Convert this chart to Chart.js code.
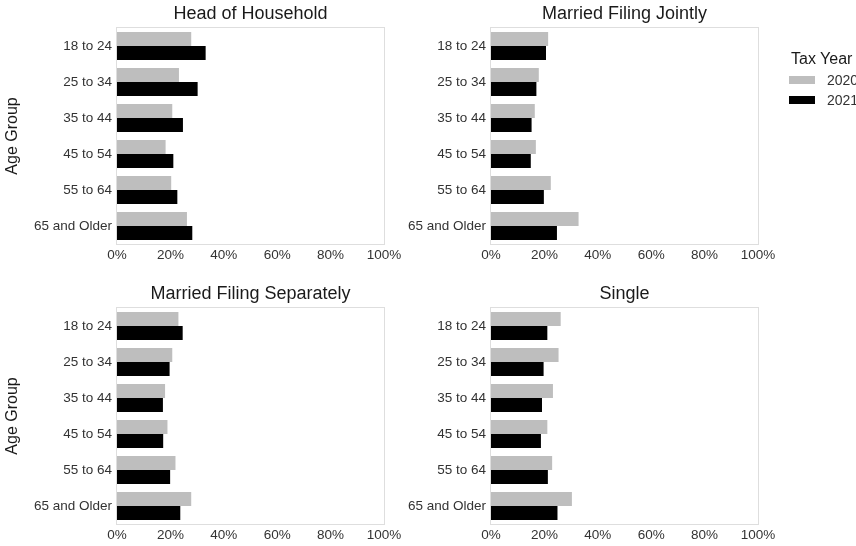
<!DOCTYPE html>
<html>
<head>
<meta charset="utf-8">
<script src="https://cdn.jsdelivr.net/npm/chart.js@4.4.1/dist/chart.umd.min.js"></script>
<style>
  html, body { margin: 0; padding: 0; background: #fff; }
  body { width: 856px; height: 546px; position: relative; overflow: hidden;
         font-family: "Liberation Sans", Arial, sans-serif; }
  .panel { position: absolute; }
  .legend-title { position: absolute; left: 791px; top: 50px; font-size: 16px; color: #1a1a1a; white-space: nowrap; }
  .key { position: absolute; left: 789px; width: 26px; height: 8px; }
  .key-label { position: absolute; left: 827px; font-size: 14px; color: #333; white-space: nowrap; }
</style>
</head>
<body>
<div class="panel" style="left:0;top:0"><canvas id="c0" width="428" height="280"></canvas></div>
<div class="panel" style="left:390px;top:0"><canvas id="c1" width="466" height="280"></canvas></div>
<div class="panel" style="left:0;top:280px"><canvas id="c2" width="428" height="266"></canvas></div>
<div class="panel" style="left:390px;top:280px"><canvas id="c3" width="466" height="266"></canvas></div>

<div class="legend-title">Tax Year</div>
<div class="key" style="top:76px;background:#bebebe"></div>
<div class="key-label" style="top:72px">2020</div>
<div class="key" style="top:96px;background:#000"></div>
<div class="key-label" style="top:92px">2021</div>

<script>
// Age groups shown on every panel
const ageGroups = ['18 to 24', '25 to 34', '35 to 44', '45 to 54', '55 to 64', '65 and Older'];
const taxYears = ['2020', '2021'];
const xTickValues = [0, 20, 40, 60, 80, 100];

// Share (%) by filing status and tax year
const headOfHousehold2020 = [27.8, 23.2, 20.7, 18.2, 20.3, 26.2];
const headOfHousehold2021 = [33.2, 30.2, 24.7, 21.1, 22.6, 28.2];
const jointly2020 = [21.4, 17.9, 16.4, 16.8, 22.4, 32.8];
const jointly2021 = [20.6, 17.0, 15.2, 14.9, 19.8, 24.7];
const separately2020 = [23.0, 20.7, 18.0, 18.9, 21.9, 27.8];
const separately2021 = [24.6, 19.7, 17.2, 17.3, 19.9, 23.7];
const single2020 = [26.1, 25.3, 23.2, 21.1, 22.9, 30.3];
const single2021 = [21.1, 19.7, 19.1, 18.7, 21.3, 24.9];

const FONT = '"Liberation Sans", Arial, sans-serif';
const yearColors = ['#bebebe', '#000000'];

// Panel frame, facet title and optional y-axis title
const decor = {
  id: 'decor',
  afterDraw(chart, args, opts) {
    const { ctx, chartArea: a } = chart;
    ctx.save();
    ctx.strokeStyle = '#dedede';
    ctx.lineWidth = 1;
    const l = Math.round(a.left), t = Math.round(a.top);
    const r = Math.round(a.right), b = Math.round(a.bottom);
    ctx.strokeRect(l - 0.5, t - 0.5, r - l + 1, b - t + 1);

    ctx.fillStyle = '#1a1a1a';
    ctx.textAlign = 'center';
    ctx.textBaseline = 'middle';
    ctx.font = '18px ' + FONT;
    ctx.fillText(opts.title, (a.left + a.right) / 2, opts.titleY);

    if (opts.yTitle) {
      ctx.translate(opts.yTitleX, (a.top + a.bottom) / 2);
      ctx.rotate(-Math.PI / 2);
      ctx.font = '16px ' + FONT;
      ctx.fillText(opts.yTitle, 0, 0);
    }
    ctx.restore();
  }
};

const panels = [
  { id: 'c0', title: 'Head of Household', s2020: headOfHousehold2020, s2021: headOfHousehold2021,
    yTitle: 'Age Group', area: { left: 117, top: 28, right: 384, bottom: 244 } },
  { id: 'c1', title: 'Married Filing Jointly', s2020: jointly2020, s2021: jointly2021,
    yTitle: null, area: { left: 101, top: 28, right: 368, bottom: 244 } },
  { id: 'c2', title: 'Married Filing Separately', s2020: separately2020, s2021: separately2021,
    yTitle: 'Age Group', area: { left: 117, top: 28, right: 384, bottom: 244 } },
  { id: 'c3', title: 'Single', s2020: single2020, s2021: single2021,
    yTitle: null, area: { left: 101, top: 28, right: 368, bottom: 244 } }
];

panels.forEach(p => {
  const canvas = document.getElementById(p.id);
  const W = canvas.width, H = canvas.height;
  new Chart(canvas, {
    type: 'bar',
    data: {
      labels: ageGroups,
      datasets: [
        { label: taxYears[0], data: p.s2020, backgroundColor: yearColors[0] },
        { label: taxYears[1], data: p.s2021, backgroundColor: yearColors[1] }
      ]
    },
    options: {
      indexAxis: 'y',
      responsive: false,
      animation: false,
      events: [],
      categoryPercentage: 0.78,
      barPercentage: 1.0,
      layout: { padding: { left: 0, top: p.area.top, right: W - p.area.right, bottom: 0 } },
      plugins: {
        legend: { display: false },
        tooltip: { enabled: false },
        decor: { title: p.title, titleY: 14, yTitle: p.yTitle, yTitleX: 13 }
      },
      scales: {
        x: {
          min: 0, max: 100,
          afterBuildTicks: s => { s.ticks = xTickValues.map(v => ({ value: v })); },
          afterFit: s => { s.height = H - p.area.bottom; },
          grid: { display: false, drawTicks: false },
          border: { display: false },
          ticks: {
            padding: 3,
            color: '#333',
            font: { family: FONT, size: 13.5 },
            callback: v => v + '%'
          }
        },
        y: {
          afterFit: s => { s.width = p.area.left; },
          grid: { display: false, drawTicks: false },
          border: { display: false },
          ticks: {
            padding: 5,
            color: '#333',
            font: { family: FONT, size: 13.5 }
          }
        }
      }
    },
    plugins: [decor]
  });
});
</script>
</body>
</html>
